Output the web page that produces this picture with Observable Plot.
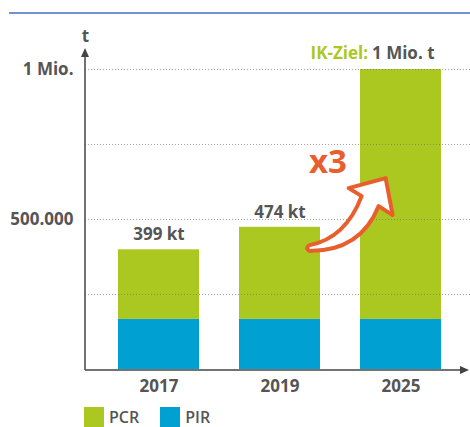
<!DOCTYPE html>
<html>
<head>
<meta charset="utf-8">
<script src="https://cdn.jsdelivr.net/npm/d3@7"></script>
<script src="https://cdn.jsdelivr.net/npm/@observablehq/plot@0.6"></script>
<style>
  html, body { margin: 0; padding: 0; background: #fff; }
  #wrap { position: relative; width: 470px; height: 427px; font-family: "Open Sans", sans-serif; }
  #topline { position: absolute; left: 9px; top: 12px; width: 461px; height: 2px; background: #7393cc; }
  #legend { position: absolute; left: 84px; top: 407px; display: flex; align-items: center; font-size: 16px; font-weight: 600; color: #555; }
  #legend .sw { width: 20px; height: 20px; display: inline-block; margin-right: 5px; }
  #legend .item { display: flex; align-items: center; margin-right: 21px; line-height: 20px; }
</style>
</head>
<body>
<div id="wrap">
  <div id="chart"></div>
  <div id="topline"></div>
  <div id="legend"></div>
</div>
<script>
// ---- data ----
const years = ["2017", "2019", "2025"];
const pirValues = [167000, 167000, 167000];
const pcrValues = [232000, 307000, 833000];
const series = ["PCR", "PIR"];
const seriesColors = ["#abc821", "#00a0d3"];
const totalLabels = ["399 kt", "474 kt", null];
const yTicks = [500000, 1000000];
const yTickLabels = ["500.000", "1 Mio."];
const gridValues = [250000, 500000, 750000, 1000000];
const targetPrefix = "IK-Ziel:";
const targetText = "1 Mio. t";
const growthLabel = "x3";
const unitLabel = "t";

// long table for stacking (PIR at bottom)
const rows = [];
years.forEach((yr, i) => {
  rows.push({year: yr, series: "PIR", value: pirValues[i]});
  rows.push({year: yr, series: "PCR", value: pcrValues[i]});
});
const totals = years.map((yr, i) => ({year: yr, total: pirValues[i] + pcrValues[i], label: totalLabels[i]}))
  .filter(d => d.label);

const gray = "#555";
const orange = "#e95e2d";
const axisColor = "#444";

// axis lines with arrowheads
function axesMark(index, scales, values, dims) {
  const g = d3.create("svg:g");
  const x0 = dims.marginLeft;
  const y0 = scales.y(0);
  const yTop = scales.y(1070000);
  const xRight = dims.width - 1;
  g.append("line").attr("x1", x0).attr("x2", x0).attr("y1", y0 + 1).attr("y2", yTop + 6)
    .attr("stroke", axisColor).attr("stroke-width", 1.5);
  g.append("path").attr("d", `M${x0},${yTop} L${x0 - 4},${yTop + 9} L${x0 + 4},${yTop + 9} Z`).attr("fill", axisColor);
  g.append("line").attr("x1", x0).attr("x2", xRight - 6).attr("y1", y0 + 1).attr("y2", y0 + 1)
    .attr("stroke", axisColor).attr("stroke-width", 1.5);
  g.append("path").attr("d", `M${xRight},${y0 + 1} L${xRight - 9},${y0 - 3} L${xRight - 9},${y0 + 5} Z`).attr("fill", axisColor);
  return g.node();
}

// curved block arrow anchored to a data position (tail near 2019 bar)
const arrowTail = {year: "2019", pos: 0.86, value: 403000};
function growthArrow(index, scales) {
  const tx = scales.x(arrowTail.year) + scales.x.bandwidth() * arrowTail.pos;
  const ty = scales.y(arrowTail.value);
  const p = (dx, dy) => `${tx + dx},${ty + dy}`;
  const d = `M${p(1,-3)} Q${p(37,-10)} ${p(53,-52)} L${p(40,-60)} L${p(77,-70)} L${p(84,-33)} L${p(70,-42)} Q${p(52,3)} ${p(1,3)} Q${p(-4,0)} ${p(1,-3)} Z`;
  const g = d3.create("svg:g");
  g.append("path").attr("d", d).attr("fill", "#fff").attr("stroke", orange)
    .attr("stroke-width", 4).attr("stroke-linejoin", "round");
  return g.node();
}

const chart = Plot.plot({
  width: 470,
  height: 400,
  marginLeft: 85,
  marginRight: 0,
  marginTop: 69,
  marginBottom: 31,
  style: {fontFamily: "Open Sans, sans-serif", color: gray, background: "#fff"},
  x: {domain: years, range: [85, 473], paddingInner: 0.333, paddingOuter: 0.263, label: null},
  y: {domain: [0, 1000000], label: null},
  color: {domain: series, range: seriesColors},
  marks: [
    Plot.barY(rows, {x: "year", y: "value", fill: "series", order: ["PIR", "PCR"]}),
    Plot.ruleY(gridValues, {stroke: "#777", strokeOpacity: 0.7, strokeDasharray: "1,2", strokeWidth: 1}),
    axesMark,
    Plot.axisY(yTicks, {tickSize: 0, tickPadding: 12, tickFormat: d => yTickLabels[yTicks.indexOf(d)],
      fontSize: 17, fontWeight: 700, fill: gray, label: null}),
    Plot.axisX({tickSize: 0, tickPadding: 10, fontSize: 17, fontWeight: 700, fill: gray, label: null}),
    Plot.text(totals, {x: "year", y: "total", text: "label", dy: -15, fontSize: 17, fontWeight: 700, fill: gray}),
    Plot.text([targetPrefix], {x: () => "2025", y: () => 1000000, text: d => d, textAnchor: "end", dx: -33, dy: -16,
      fontSize: 17, fontWeight: 700, fill: "#abc821"}),
    Plot.text([targetText], {x: () => "2025", y: () => 1000000, text: d => d, textAnchor: "start", dx: -29, dy: -16,
      fontSize: 17, fontWeight: 700, fill: gray}),
    Plot.text([unitLabel], {frameAnchor: "left", y: () => 1110000, text: d => d, textAnchor: "middle",
      fontSize: 17, fontWeight: 700, fill: gray}),
    growthArrow,
    Plot.text([growthLabel], {x: () => "2025", y: () => 690000, text: d => d, dx: -73,
      fontSize: 33, fontWeight: 700, fill: orange})
  ]
});
document.getElementById("chart").appendChild(chart);

// legend
const legend = document.getElementById("legend");
series.forEach((s, i) => {
  const item = document.createElement("div");
  item.className = "item";
  const sw = document.createElement("span");
  sw.className = "sw";
  sw.style.background = seriesColors[i];
  const label = document.createElement("span");
  label.textContent = s;
  item.appendChild(sw);
  item.appendChild(label);
  legend.appendChild(item);
});
</script>
</body>
</html>
